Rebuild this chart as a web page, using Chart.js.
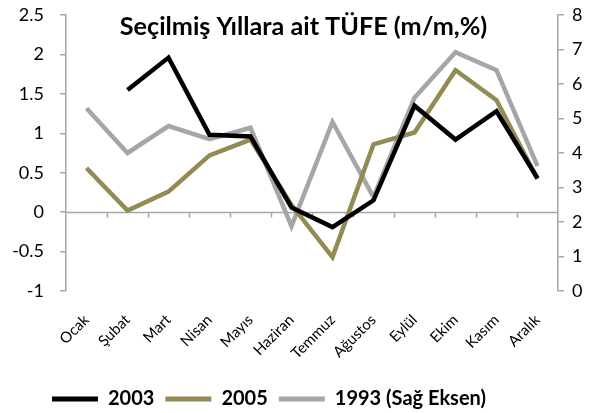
<!DOCTYPE html>
<html>
<head>
<meta charset="utf-8">
<script src="https://cdn.jsdelivr.net/npm/chart.js@4/dist/chart.umd.min.js"></script>
<style>
html,body{margin:0;padding:0;background:#fff;}
#wrap{width:592px;height:413px;position:relative;}
</style>
</head>
<body>
<div id="wrap"><canvas id="c" width="592" height="413"></canvas></div>
<script>
const chartTitle = "Seçilmiş Yıllara ait TÜFE (m/m,%)";
const months = ["Ocak","Şubat","Mart","Nisan","Mayıs","Haziran","Temmuz","Ağustos","Eylül","Ekim","Kasım","Aralık"];
const seriesNames = ["2003","2005","1993 (Sağ Eksen)"];
const values2003 = [null,1.55,1.96,0.98,0.96,0.06,-0.19,0.15,1.35,0.92,1.28,0.43];
const values2005 = [0.56,0.02,0.26,0.72,0.92,0.09,-0.57,0.86,1.01,1.80,1.42,0.42];
const values1993 = [5.30,4.00,4.78,4.40,4.73,1.88,4.90,2.72,5.60,6.92,6.40,3.62];
const leftTicks = [-1,-0.5,0,0.5,1,1.5,2,2.5];
const rightTicks = [0,1,2,3,4,5,6,7,8];

const AXIS = '#A6A6A6';
const FONT = 'Lato, "Open Sans", sans-serif';

const zeroLine = {
  id:'zeroLine',
  beforeDatasetsDraw(chart){
    const ctx = chart.ctx, x = chart.scales.x, y = chart.scales.yL, a = chart.chartArea;
    const y0 = Math.round(y.getPixelForValue(0)) + 0.5;
    ctx.save();
    ctx.strokeStyle = AXIS; ctx.lineWidth = 1.5;
    ctx.beginPath(); ctx.moveTo(a.left, y0); ctx.lineTo(a.right, y0); ctx.stroke();
    for (let i = 1; i < months.length; i++) {
      const bx = Math.round((x.getPixelForValue(i-1) + x.getPixelForValue(i)) / 2) + 0.5;
      ctx.beginPath(); ctx.moveTo(bx, y0); ctx.lineTo(bx, y0 + 5); ctx.stroke();
    }
    ctx.restore();
  }
};
const titlePlugin = {
  id:'titleText',
  afterDraw(chart){
    const ctx = chart.ctx;
    ctx.save();
    ctx.font = 'bold 25px ' + FONT;
    const w = ctx.measureText(chartTitle).width;
    const size = Math.max(18, Math.min(26, 25 * 367 / w));
    ctx.font = 'bold ' + size.toFixed(1) + 'px ' + FONT;
    ctx.fillStyle = '#000';
    ctx.textAlign = 'center'; ctx.textBaseline = 'middle';
    ctx.fillText(chartTitle, 303.5, 27);
    ctx.restore();
  }
};
const shiftLegend = {
  id:'shiftLegend',
  afterLayout(chart){
    const l = chart.legend; l.left -= 27; l.right -= 27; l.top += 6; l.bottom += 6;
  }
};
function noPad(s){ s.paddingTop = 0; s.paddingBottom = 0; s.paddingLeft = 0; s.paddingRight = 0; }

new Chart(document.getElementById('c'), {
  type:'line',
  data:{
    labels: months,
    datasets:[
      {label:seriesNames[0], data:values2003, borderColor:'#000000', backgroundColor:'#000000', yAxisID:'yL'},
      {label:seriesNames[1], data:values2005, borderColor:'#948A54', backgroundColor:'#948A54', yAxisID:'yL'},
      {label:seriesNames[2], data:values1993, borderColor:'#A6A6A6', backgroundColor:'#A6A6A6', yAxisID:'yR'}
    ]
  },
  options:{
    responsive:false, animation:false, devicePixelRatio:1,
    layout:{padding:{top:15,left:0,right:0,bottom:0}},
    elements:{line:{borderWidth:4.5, tension:0, borderCapStyle:'butt', borderJoinStyle:'miter'}, point:{radius:0, hoverRadius:0}},
    spanGaps:false,
    plugins:{
      tooltip:{enabled:false},
      title:{display:false},
      legend:{
        position:'bottom',
        labels:{
          color:'#000',
          font:{family:FONT, size:20, weight:'bold'},
          boxWidth:46, boxHeight:5, padding:11,
          generateLabels(chart){
            return chart.data.datasets.map((d,i)=>({text:d.label, fillStyle:d.borderColor, strokeStyle:d.borderColor, lineWidth:0, datasetIndex:i}));
          }
        }
      }
    },
    scales:{
      x:{
        type:'category', offset:true,
        grid:{display:false},
        border:{display:false},
        ticks:{color:'#000', font:{family:FONT, size:15}, minRotation:45, maxRotation:45, padding:12, autoSkip:false},
        afterFit(s){ s.height = 81; noPad(s); }
      },
      yL:{
        position:'left', min:-1, max:2.5,
        afterBuildTicks(s){ s.ticks = leftTicks.map(v=>({value:v})); },
        grid:{drawOnChartArea:false, drawTicks:true, tickLength:6, color:AXIS, lineWidth:1.5},
        border:{display:true, color:AXIS, width:1.5},
        ticks:{color:'#000', font:{family:FONT, size:18}, padding:16, callback:(v)=>String(v)},
        afterFit(s){ s.width = 66; noPad(s); }
      },
      yR:{
        position:'right', min:0, max:8,
        afterBuildTicks(s){ s.ticks = rightTicks.map(v=>({value:v})); },
        grid:{drawOnChartArea:false, drawTicks:true, tickLength:6, color:AXIS, lineWidth:1.5},
        border:{display:true, color:AXIS, width:1.5},
        ticks:{color:'#000', font:{family:FONT, size:18}, padding:8, callback:(v)=>String(v)},
        afterFit(s){ s.width = 34; noPad(s); }
      }
    }
  },
  plugins:[zeroLine, titlePlugin, shiftLegend]
});
</script>
</body>
</html>
